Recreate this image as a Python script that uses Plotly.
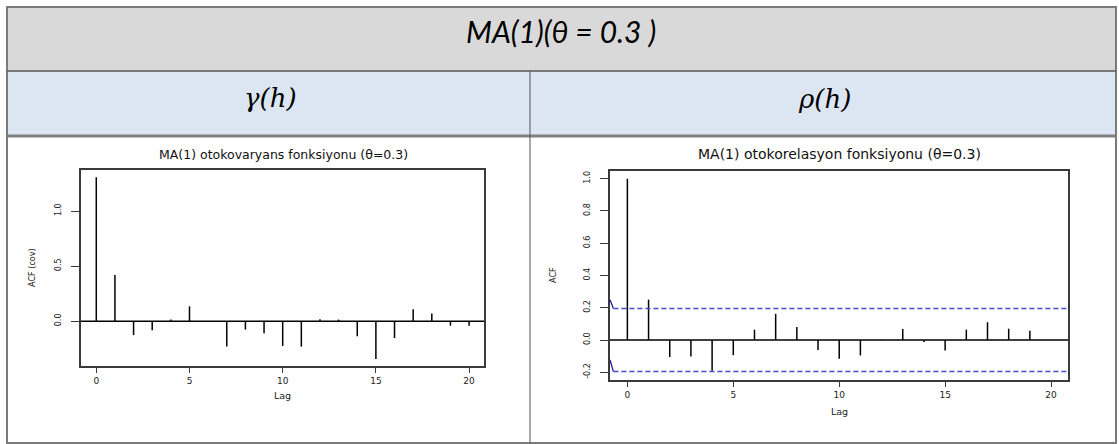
import plotly.graph_objects as go

# ---------------- data ----------------
lags = list(range(21))
gamma_vals = [1.306, 0.42, -0.126, -0.081, 0.015, 0.135, 0.003, -0.23, -0.075, -0.11,
              -0.225, -0.23, 0.018, 0.015, -0.135, -0.342, -0.153, 0.108, 0.07, -0.04, -0.04]
rho_vals = [1.0, 0.25, -0.106, -0.102, -0.19, -0.094, 0.064, 0.162, 0.081, -0.062,
            -0.117, -0.096, 0.002, 0.069, -0.012, -0.065, 0.064, 0.11, 0.07, 0.058, 0.0]
ci_level = 0.196
ci_edge_x = [-0.82, -0.66]
ci_edge_top = [0.25, 0.196]
ci_edge_bottom = [-0.123, -0.196]

x_ticks = [0, 5, 10, 15, 20]
gamma_ticks = [0.0, 0.5, 1.0]
gamma_ticktext = ["0.0", "0.5", "1.0"]
rho_ticks = [-0.2, 0.0, 0.2, 0.4, 0.6, 0.8, 1.0]
rho_ticktext = ["-0.2", "0.0", "0.2", "0.4", "0.6", "0.8", "1.0"]

main_title = "MA(1)(θ = 0.3 )"
col_titles = ["γ(h)", "ρ(h)"]
plot_titles = ["MA(1) otokovaryans fonksiyonu (θ=0.3)", "MA(1) otokorelasyon fonksiyonu (θ=0.3)"]
ylabels = ["ACF (cov)", "ACF"]
xlabel = "Lag"

# ---------------- layout helpers ----------------
W, H = 1119, 444
def px(x):
    return x / W
def py(y):
    return 1 - y / H

XMIN, XMAX = -0.82, 20.8

def stems(xs, ys):
    sx, sy = [], []
    for a, b in zip(xs, ys):
        sx += [a, a, None]
        sy += [0, b, None]
    return sx, sy

fig = go.Figure()

gx, gy = stems(lags, gamma_vals)
fig.add_trace(go.Scatter(x=gx, y=gy, mode="lines", line=dict(color="black", width=1.5),
                         xaxis="x", yaxis="y", showlegend=False, hoverinfo="skip"))
rx, ry = stems(lags, rho_vals)
fig.add_trace(go.Scatter(x=rx, y=ry, mode="lines", line=dict(color="black", width=1.5),
                         xaxis="x2", yaxis="y2", showlegend=False, hoverinfo="skip"))
fig.add_trace(go.Scatter(x=ci_edge_x, y=ci_edge_top, mode="lines", line=dict(color="#1a1aa0", width=1.3),
                         xaxis="x2", yaxis="y2", showlegend=False, hoverinfo="skip"))
fig.add_trace(go.Scatter(x=ci_edge_x, y=ci_edge_bottom, mode="lines", line=dict(color="#1a1aa0", width=1.3),
                         xaxis="x2", yaxis="y2", showlegend=False, hoverinfo="skip"))

tickfont_x = dict(family="DejaVu Sans", size=9, color="#222")
narrow = "Liberation Sans Narrow, DejaVu Sans Condensed, sans-serif"
tickfont_y = dict(family=narrow, size=9, color="#222")

common_x = dict(showgrid=False, zeroline=False, showline=True, mirror=True, linecolor="#3a3a3a",
                linewidth=1.5, ticks="outside", ticklen=5, tickcolor="#3a3a3a", tickwidth=1.2,
                tickvals=x_ticks, tickfont=tickfont_x, range=[XMIN, XMAX], ticklabelstandoff=0)
common_y = dict(showgrid=False, zeroline=False, showline=True, mirror=True, linecolor="#3a3a3a",
                linewidth=1.5, ticks="outside", ticklen=8, tickcolor="#3a3a3a", tickwidth=1.2,
                tickfont=tickfont_y, tickangle=-90, ticklabelstandoff=7)

fig.update_layout(
    width=W, height=H, autosize=False,
    margin=dict(l=0, r=0, t=0, b=0),
    paper_bgcolor="white", plot_bgcolor="white",
    xaxis=dict(domain=[px(81), px(484)], anchor="y", **common_x),
    yaxis=dict(domain=[py(366), py(170)], anchor="x", range=[-0.406, 1.372],
               tickvals=gamma_ticks, ticktext=gamma_ticktext, **common_y),
    xaxis2=dict(domain=[px(610), px(1068)], anchor="y2", **common_x),
    yaxis2=dict(domain=[py(380), py(171)], anchor="x2", range=[-0.248, 1.048],
                tickvals=rho_ticks, ticktext=rho_ticktext, **common_y),
)

shapes = []
# table backgrounds
shapes.append(dict(type="rect", xref="paper", yref="paper", x0=px(7), x1=px(1116), y0=py(71), y1=py(7),
                   fillcolor="#d9d9d9", line=dict(width=0), layer="below"))
shapes.append(dict(type="rect", xref="paper", yref="paper", x0=px(7), x1=px(1116), y0=py(136), y1=py(71),
                   fillcolor="#dce6f2", line=dict(width=0), layer="below"))
# borders
shapes.append(dict(type="rect", xref="paper", yref="paper", x0=px(7), x1=px(1116), y0=py(443), y1=py(7),
                   line=dict(color="#7a7a7a", width=2)))
shapes.append(dict(type="line", xref="paper", yref="paper", x0=px(7), x1=px(1116), y0=py(71), y1=py(71),
                   line=dict(color="#5a5a5a", width=1.5)))
shapes.append(dict(type="line", xref="paper", yref="paper", x0=px(7), x1=px(1116), y0=py(136), y1=py(136),
                   line=dict(color="#808080", width=3)))
shapes.append(dict(type="line", xref="paper", yref="paper", x0=px(530), x1=px(530), y0=py(443), y1=py(71),
                   line=dict(color="#555555", width=1)))
# zero lines
for xa, ya in (("x", "y"), ("x2", "y2")):
    shapes.append(dict(type="line", xref=xa + " domain", yref=ya, x0=0, x1=1, y0=0, y1=0,
                       line=dict(color="black", width=1.5)))
# confidence bands
for lvl in (ci_level, -ci_level):
    shapes.append(dict(type="line", xref="x2", yref="y2", x0=ci_edge_x[1], x1=XMAX, y0=lvl, y1=lvl,
                       line=dict(color="#4a4ad0", width=1.5, dash="5px,3px")))
fig.update_layout(shapes=shapes)

def note(text, x, y, font, angle=0):
    return dict(text=text, x=px(x), y=py(y), xref="paper", yref="paper", showarrow=False,
                xanchor="center", yanchor="middle", textangle=angle, font=font)

ann = [
    note("<i>" + main_title + "</i>", 561, 31, dict(family="Lato", size=30, color="black")),
    note("<i>" + col_titles[0] + "</i>", 270, 98, dict(family="DejaVu Serif", size=26, color="black")),
    note("<i>" + col_titles[1] + "</i>", 824, 99, dict(family="DejaVu Serif", size=26, color="black")),
    note(plot_titles[0], 283, 154, dict(family="DejaVu Sans", size=12.5, color="#111")),
    note(plot_titles[1], 839, 154, dict(family="DejaVu Sans", size=14, color="#111")),
    note(ylabels[0], 32, 268, dict(family=narrow, size=9, color="#222"), -90),
    note(ylabels[1], 553, 275, dict(family=narrow, size=9, color="#222"), -90),
    note(xlabel, 282, 395, dict(family="DejaVu Sans", size=9.5, color="#222")),
    note(xlabel, 839, 411, dict(family="DejaVu Sans", size=9.5, color="#222")),
]
fig.update_layout(annotations=ann)

fig.write_html("out.html", config={"displayModeBar": False},
               post_script="document.body.style.margin='0px';document.body.style.overflow='hidden';")
